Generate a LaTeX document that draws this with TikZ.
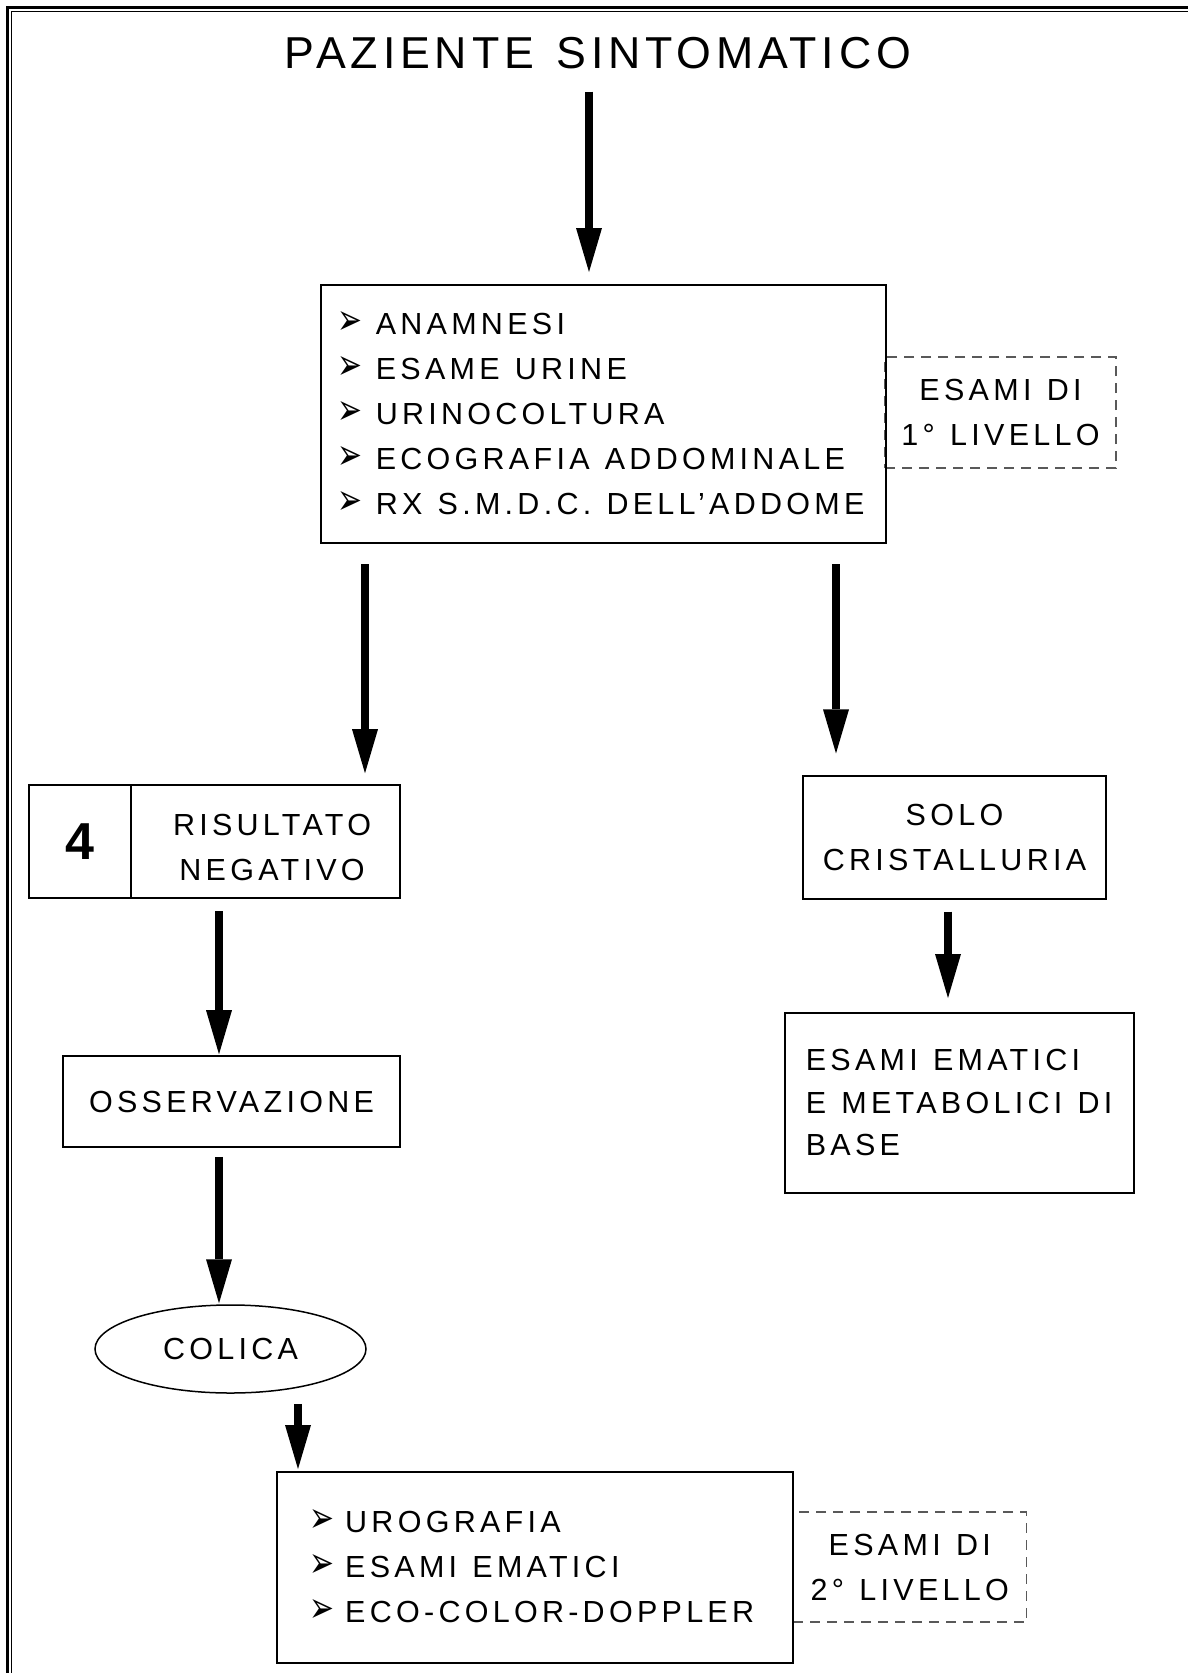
\documentclass[tikz,border=0pt]{standalone}
\usepackage{graphicx}
\usepackage{fontspec}
\setmainfont{Liberation Sans}
\newfontfamily\spacedfont[LetterSpace=14,WordSpace=1.2]{Liberation Sans}
\newfontfamily\headfont[LetterSpace=10.8,WordSpace=1.3]{Liberation Sans}
\newfontfamily\symbolfont{DejaVu Sans}
\usetikzlibrary{arrows.meta,shapes.geometric}
% arrowhead bullet, sized to the capitals, followed by a fixed indent
\newcommand\itemarrow[1]{\makebox[#1][l]{\smash{\raisebox{\depth}{\resizebox*{25pt}{23pt}{\symbolfont ➢}}}}}
% wider word spaces inside left-aligned text blocks
\newcommand\loosespaces{\spaceskip=.5em\relax\xspaceskip=.3em\relax}

\begin{document}
\begin{tikzpicture}[x=1pt,y=-1pt,
  body/.style={font=\spacedfont\fontsize{30.5}{45}\selectfont},
  box/.style={draw, line width=1.6pt, inner sep=0pt, body},
  levelbox/.style={draw=black!65, line width=1.3pt, dash pattern=on 10pt off 7pt,
                   inner sep=0pt, body, align=center},
  flow/.style={line width=8pt, -{Triangle[width=26pt,length=44pt,line width=0pt]}},
]
\useasboundingbox (0,0) rectangle (1188,1673);

% page frame (double rule)
\draw[line width=2.6pt] (7.2,1680) -- (7.2,7.2) -- (1195,7.2);
\draw[line width=1.8pt] (11.5,1680) -- (11.5,11.5) -- (1195,11.5);

% title
\node[font=\headfont\fontsize{44.7}{50}\selectfont, inner sep=0pt] (title) at (598,53) {PAZIENTE SINTOMATICO};

% first-level exams
\node[levelbox, minimum width=231pt, minimum height=111pt] (lvl1) at (1000.5,412.5) {ESAMI DI\\1° LIVELLO};
\node[box, anchor=north west, minimum width=565pt, minimum height=258pt,
      text width=531pt, inner xsep=17pt, align=left] (first) at (320,284)
  {\loosespaces
   \itemarrow{38pt}ANAMNESI\\
   \itemarrow{38pt}ESAME URINE\\
   \itemarrow{38pt}URINOCOLTURA\\
   \itemarrow{38pt}ECOGRAFIA ADDOMINALE\\
   \itemarrow{38pt}RX S.M.D.C. DELL’ADDOME};

% left branch
\node[box, minimum width=102pt, minimum height=113pt,
      font=\rmfamily\bfseries\fontsize{52}{52}\selectfont] (four) at (80,841.5) {4};
\node[box, minimum width=269pt, minimum height=113pt, align=center] (neg) at (265.5,841.5)
  {\hspace{13pt}\rule{0pt}{33pt}RISULTATO\\\hspace{13pt}NEGATIVO};
\node[box, minimum width=337pt, minimum height=91pt] (obs) at (231.5,1101.5) {OSSERVAZIONE};
\node[draw, ellipse, line width=1.5pt, inner sep=0pt, minimum width=271pt,
      minimum height=88pt, body] (colic) at (230.5,1349) {COLICA};

% second-level exams
\node[levelbox, minimum width=233.5pt, minimum height=110pt] (lvl2) at (909.75,1567) {ESAMI DI\\2° LIVELLO};
\node[box, anchor=north west, minimum width=516pt, minimum height=191pt,
      text width=450.6pt, inner xsep=32.7pt, align=left] (second) at (276,1471)
  {\loosespaces
   \itemarrow{35.7pt}UROGRAFIA\\
   \itemarrow{35.7pt}ESAMI EMATICI\\
   \itemarrow{35.7pt}ECO-COLOR-DOPPLER};

% right branch
\node[box, minimum width=303pt, minimum height=123pt, align=center] (solo) at (954.5,837.7) {SOLO\\CRISTALLURIA};
\node[box, anchor=north west, minimum width=349pt, minimum height=180pt,
      text width=307pt, inner xsep=21pt, align=left,
      font=\spacedfont\fontsize{30.5}{42.5}\selectfont] (blood) at (784,1012)
  {\loosespaces
   \mbox{ESAMI EMATICI}\\\mbox{E METABOLICI DI}\\\mbox{BASE}};

% arrow columns
\coordinate (x1) at (589,0);
\coordinate (x2) at (365,0);
\coordinate (x3) at (836,0);
\coordinate (x4) at (219,0);
\coordinate (x5) at (298,0);
\coordinate (x6) at (948,0);

\draw[flow, shorten <=22.7pt, shorten >=12pt] (title.south -| x1) -- (first.north -| x1);
\draw[flow, shorten <=20.5pt, shorten >=11pt] (first.south -| x2) -- (neg.north -| x2);
\draw[flow, shorten <=20.5pt, shorten >=22pt] (first.south -| x3) -- (solo.north -| x3);
\draw[flow, shorten <=12.5pt, shorten >=1pt] (neg.south -| x4) -- (obs.north -| x4);
\draw[flow, shorten <=9pt, shorten >=1pt] (obs.south -| x4) -- (colic.north -| x4);
\draw[flow, shorten <=10pt, shorten >=2pt] (colic.south -| x5) -- (second.north -| x5);
\draw[flow, shorten <=11.5pt, shorten >=14pt] (solo.south -| x6) -- (blood.north -| x6);
\end{tikzpicture}
\end{document}
